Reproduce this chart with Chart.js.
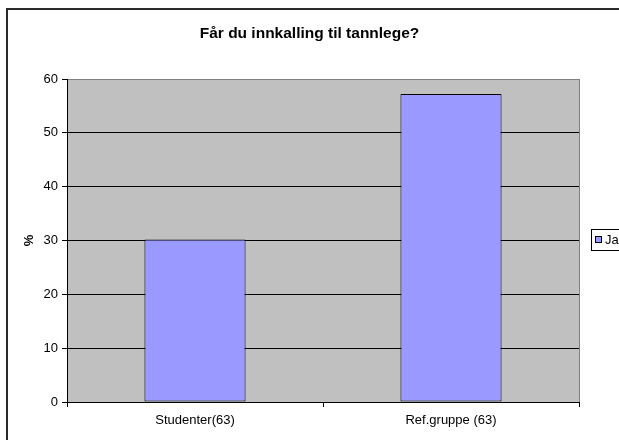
<!DOCTYPE html>
<html>
<head>
<meta charset="utf-8">
<script src="https://cdn.jsdelivr.net/npm/chart.js@4/dist/chart.umd.min.js"></script>
<style>
  html, body { margin: 0; padding: 0; background: #ffffff; }
  #wrap { width: 619px; height: 440px; }
</style>
</head>
<body>
<div id="wrap"><canvas id="c" width="619" height="440"></canvas></div>
<script>
const chartTitle = "Får du innkalling til tannlege?";
const categories = ["Studenter(63)", "Ref.gruppe (63)"];
const seriesName = "Ja";
const seriesValues = [30.2, 57.2];
const yAxisTitle = "%";
const yMin = 0, yMax = 60, yStep = 10;

const FONT = "'Liberation Sans', Arial, sans-serif";
const TICK_SIZE = 13;

const framePlugin = {
  id: 'frame',
  beforeDraw(chart) {
    const ctx = chart.ctx;
    const a = chart.chartArea;
    ctx.save();
    ctx.fillStyle = '#ffffff';
    ctx.fillRect(0, 0, chart.width, chart.height);
    ctx.strokeStyle = '#2b2b2b';
    ctx.lineWidth = 2;
    ctx.strokeRect(7, 9, chart.width + 20, chart.height + 20);
    ctx.fillStyle = '#c0c0c0';
    ctx.fillRect(a.left, a.top, a.right - a.left, a.bottom - a.top);
    ctx.strokeStyle = '#808080';
    ctx.lineWidth = 1;
    ctx.strokeRect(Math.round(a.left) + 0.5, Math.round(a.top) + 0.5, Math.round(a.right - a.left), Math.round(a.bottom - a.top));
    ctx.restore();
  },
  afterDraw(chart) {
    const ctx = chart.ctx;
    const ds = chart.data.datasets[0];
    ctx.save();
    ctx.fillStyle = '#ffffff';
    ctx.fillRect(591, 229, 60, 21);
    ctx.strokeStyle = '#000000';
    ctx.lineWidth = 1;
    ctx.strokeRect(591.5, 229.5, 60, 21);
    ctx.fillStyle = ds.backgroundColor;
    ctx.fillRect(595, 237, 6, 6);
    ctx.strokeRect(595.5, 236.5, 6, 6);
    ctx.fillStyle = '#000000';
    ctx.font = TICK_SIZE + 'px ' + FONT;
    ctx.textBaseline = 'middle';
    ctx.textAlign = 'left';
    ctx.fillText(ds.label, 605, 240.5);
    ctx.restore();
  }
};

new Chart(document.getElementById('c'), {
  type: 'bar',
  data: {
    labels: categories,
    datasets: [{
      label: seriesName,
      data: seriesValues,
      backgroundColor: '#9999ff',
      borderColor: '#000000',
      borderWidth: 1,
      borderSkipped: false,
      categoryPercentage: 1.0,
      barPercentage: 0.395
    }]
  },
  options: {
    responsive: false,
    animation: false,
    devicePixelRatio: 1,
    layout: { padding: 0 },
    plugins: {
      legend: { display: false },
      tooltip: { enabled: false },
      title: {
        display: true,
        text: chartTitle,
        color: '#000000',
        font: { family: FONT, size: 15.5, weight: 'bold', lineHeight: 1.2 },
        padding: { top: 24, bottom: 36.4 }
      }
    },
    scales: {
      x: {
        offset: true,
        grid: { display: true, offset: true, drawOnChartArea: false, drawTicks: true, tickLength: 5, color: '#000000' },
        border: { display: true, color: '#000000', width: 1 },
        ticks: { color: '#000000', font: { family: FONT, size: TICK_SIZE }, padding: 6 },
        afterFit(scale) { scale.height = 38; }
      },
      y: {
        min: yMin,
        max: yMax,
        ticks: { stepSize: yStep, color: '#000000', font: { family: FONT, size: TICK_SIZE }, padding: 4 },
        grid: {
          color: (c) => (c.tick && c.tick.value === yMax) ? '#808080' : '#000000',
          tickColor: '#000000',
          tickLength: 5,
          drawTicks: true
        },
        border: { display: true, color: '#000000', width: 1 },
        title: {
          display: true,
          text: yAxisTitle,
          color: '#000000',
          font: { family: FONT, size: TICK_SIZE, weight: 'bold' },
          padding: { top: 22, bottom: 0 }
        },
        afterFit(scale) { scale.width = 67; }
      },
      legendSpace: {
        type: 'linear',
        position: 'right',
        display: true,
        grid: { display: false, drawTicks: false },
        border: { display: false },
        ticks: { display: false },
        afterFit(scale) { scale.width = 40; }
      }
    }
  },
  plugins: [framePlugin]
});
</script>
</body>
</html>
